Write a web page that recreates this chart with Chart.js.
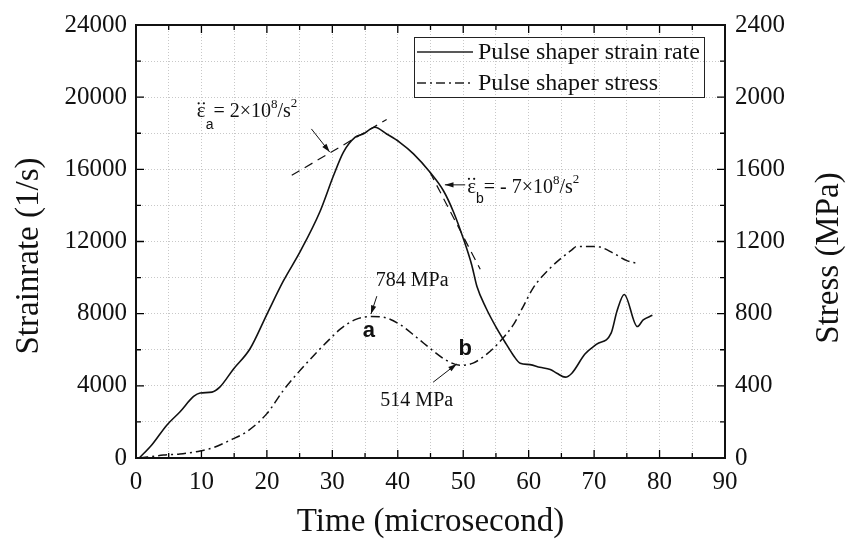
<!DOCTYPE html>
<html>
<head>
<meta charset="utf-8">
<script src="https://cdn.jsdelivr.net/npm/chart.js@4.4.1/dist/chart.umd.min.js"></script>
<style>
  html, body { margin: 0; padding: 0; background: #fff; }
  #wrap { width: 846px; height: 539px; }
</style>
</head>
<body>
<div id="wrap"><canvas id="chart" width="846" height="539"></canvas></div>
<script>
// strain rate curve (1/s)
const timeStrain = [0.5, 2.4, 4.7, 6.7, 8.8, 9.8, 11.6, 12.8, 14.9, 17.4, 20.0, 22.5, 25.1, 28.1, 30.2, 31.7, 33.5, 34.7, 36.5, 38.3, 40.3, 42.4, 44.9, 47.0, 48.5, 50.0, 51.3, 52.1, 53.5, 55.1, 56.6, 57.7, 58.7, 60.2, 61.7, 63.3, 64.3, 65.6, 66.6, 68.6, 70.4, 72.6, 73.5, 74.6, 76.6, 77.5, 78.9];
const strainRate = [0, 720, 1820, 2550, 3410, 3600, 3650, 3925, 4935, 6040, 7965, 9800, 11450, 13650, 15670, 16955, 17780, 17960, 18330, 17960, 17500, 16860, 15850, 14800, 13650, 12180, 10700, 9500, 8300, 7200, 6300, 5670, 5250, 5175, 5030, 4900, 4700, 4480, 4700, 5760, 6310, 6920, 8150, 9065, 7285, 7650, 7910];

// stress curve (MPa)
const timeStress = [0.5, 4.2, 6.7, 9.8, 11.8, 14.4, 16.9, 20.0, 22.5, 24.6, 27.6, 29.6, 31.2, 33.7, 36.0, 37.8, 40.3, 42.9, 45.4, 47.5, 49.5, 51.5, 53.6, 55.6, 57.7, 59.1, 60.7, 63.3, 66.6, 67.3, 69.8, 70.9, 72.9, 75.0, 76.8];
const stress = [0, 16, 22, 39, 57, 99, 145, 246, 374, 466, 585, 659, 714, 770, 784, 780, 741, 668, 594, 540, 514, 526, 576, 645, 741, 835, 943, 1053, 1154, 1172, 1172, 1169, 1136, 1094, 1077];

// tangent lines (dashed)
const tangentATime = [23.8, 38.3];
const tangentAStrain = [15670, 18760];
const tangentBTime = [44.9, 52.6];
const tangentBStrain = [15850, 10460];

const legendLabels = ['Pulse shaper strain rate', 'Pulse shaper stress'];
const xTitle = 'Time (microsecond)';
const yTitle = 'Strainrate (1/s)';
const y2Title = 'Stress (MPa)';

const SERIF = '"Liberation Serif", "Times New Roman", serif';
const SANS = '"Liberation Sans", Arial, sans-serif';
const DASHDOT = [9, 4, 2, 4];

function pts(xs, ys) {
  return xs.map((x, i) => ({ x: x, y: ys[i] }));
}

// annotations anchored in data units (time, strain rate)
// parts: text, size, baseline shift, family, double dot over it
const annotations = {
  epsA: { t: 9.3, v: 18880, parts: [['ε', 21, 0, SERIF, true], ['a', 14, 12, SANS], ['= 2×10', 20, 0, SERIF], ['8', 13, -9, SERIF], ['/s', 20, 0, SERIF], ['2', 13, -10, SERIF]] },
  epsB: { t: 50.6, v: 14700, parts: [['ε', 21, 0, SERIF, true], ['b', 14, 10, SANS], ['= - 7×10', 20, 0, SERIF], ['8', 13, -9, SERIF], ['/s', 20, 0, SERIF], ['2', 13, -10, SERIF]] }
};
const arrows = [
  { from: [26.8, 18240], to: [29.6, 16955] },
  { from: [50.3, 15140], to: [47.2, 15140] },
  { from: [36.8, 8970], to: [35.9, 7980] },
  { from: [45.4, 4200], to: [49.0, 5213] }
];
const labels = [
  { text: '784 MPa', t: 42.2, v: 9800, font: '20px ' + SERIF },
  { text: '514 MPa', t: 42.9, v: 3193, font: '20px ' + SERIF },
  { text: 'a', t: 35.6, v: 7050, font: 'bold 22px ' + SANS },
  { text: 'b', t: 50.3, v: 6055, font: 'bold 22px ' + SANS }
];

const extras = {
  id: 'extras',
  beforeDatasetsDraw(chart) {
    const ctx = chart.ctx;
    const a = chart.chartArea;
    const xs = chart.scales.x, ys = chart.scales.y;
    ctx.save();
    ctx.strokeStyle = '#000';
    ctx.lineWidth = 1.3;
    // inward ticks
    for (let v = 0; v <= 90; v += 5) {
      const px = xs.getPixelForValue(v);
      const len = v % 10 === 0 ? 8 : 5;
      ctx.beginPath();
      ctx.moveTo(px, a.bottom); ctx.lineTo(px, a.bottom - len);
      ctx.moveTo(px, a.top); ctx.lineTo(px, a.top + len);
      ctx.stroke();
    }
    for (let v = 0; v <= 24000; v += 2000) {
      const py = ys.getPixelForValue(v);
      const len = v % 4000 === 0 ? 8 : 5;
      ctx.beginPath();
      ctx.moveTo(a.left, py); ctx.lineTo(a.left + len, py);
      ctx.moveTo(a.right, py); ctx.lineTo(a.right - len, py);
      ctx.stroke();
    }
    ctx.restore();
  },
  afterDraw(chart) {
    const ctx = chart.ctx;
    const a = chart.chartArea;
    const xs = chart.scales.x, ys = chart.scales.y;
    ctx.save();
    // frame
    ctx.strokeStyle = '#111';
    ctx.lineWidth = 2;
    ctx.strokeRect(a.left, a.top, a.right - a.left, a.bottom - a.top);

    // axis titles
    ctx.fillStyle = '#111';
    ctx.font = '33px ' + SERIF;
    ctx.textAlign = 'center';
    ctx.textBaseline = 'alphabetic';
    ctx.fillText(xTitle, (a.left + a.right) / 2, 531);
    ctx.save();
    ctx.translate(38, 256);
    ctx.rotate(-Math.PI / 2);
    ctx.fillText(yTitle, 0, 0);
    ctx.restore();
    ctx.save();
    ctx.translate(838, 258);
    ctx.rotate(-Math.PI / 2);
    ctx.fillText(y2Title, 0, 0);
    ctx.restore();

    // legend
    ctx.lineWidth = 1;
    ctx.strokeStyle = '#222';
    ctx.strokeRect(414.5, 37.5, 290, 60);
    ctx.font = '24px ' + SERIF;
    ctx.textAlign = 'left';
    ctx.textBaseline = 'middle';
    [[], DASHDOT].forEach((dash, i) => {
      const y = 52 + i * 31;
      ctx.setLineDash(dash);
      ctx.lineWidth = 1.5;
      ctx.beginPath();
      ctx.moveTo(417, y); ctx.lineTo(473, y);
      ctx.stroke();
      ctx.setLineDash([]);
      ctx.fillText(legendLabels[i], 478, y + 1);
    });

    // equation annotations
    ctx.textBaseline = 'alphabetic';
    Object.values(annotations).forEach(an => {
      let x = xs.getPixelForValue(an.t);
      const y = ys.getPixelForValue(an.v);
      an.parts.forEach(p => {
        ctx.font = p[1] + 'px ' + p[3];
        ctx.fillText(p[0], x, y + p[2]);
        const w = ctx.measureText(p[0]).width;
        if (p[4]) {
          const cx = x + w / 2;
          [-2.6, 2.6].forEach(dx => {
            ctx.beginPath();
            ctx.arc(cx + dx, y - 14, 1.1, 0, Math.PI * 2);
            ctx.fill();
          });
        }
        x += w;
      });
    });

    // arrows
    ctx.lineWidth = 1;
    ctx.strokeStyle = '#111';
    arrows.forEach(ar => {
      const x1 = xs.getPixelForValue(ar.from[0]), y1 = ys.getPixelForValue(ar.from[1]);
      const x2 = xs.getPixelForValue(ar.to[0]), y2 = ys.getPixelForValue(ar.to[1]);
      const ang = Math.atan2(y2 - y1, x2 - x1);
      ctx.beginPath();
      ctx.moveTo(x1, y1); ctx.lineTo(x2, y2);
      ctx.stroke();
      ctx.beginPath();
      ctx.moveTo(x2, y2);
      ctx.lineTo(x2 - 9 * Math.cos(ang - 0.3), y2 - 9 * Math.sin(ang - 0.3));
      ctx.lineTo(x2 - 9 * Math.cos(ang + 0.3), y2 - 9 * Math.sin(ang + 0.3));
      ctx.closePath();
      ctx.fill();
    });

    // text labels
    ctx.textAlign = 'center';
    ctx.textBaseline = 'middle';
    labels.forEach(l => {
      ctx.font = l.font;
      ctx.fillText(l.text, xs.getPixelForValue(l.t), ys.getPixelForValue(l.v));
    });
    ctx.restore();
  }
};

new Chart(document.getElementById('chart'), {
  type: 'line',
  data: {
    datasets: [
      { label: legendLabels[0], data: pts(timeStrain, strainRate), yAxisID: 'y', borderColor: '#111', borderWidth: 1.6, pointRadius: 0, cubicInterpolationMode: 'monotone' },
      { label: legendLabels[1], data: pts(timeStress, stress), yAxisID: 'y2', borderColor: '#111', borderWidth: 1.5, borderDash: DASHDOT, pointRadius: 0, cubicInterpolationMode: 'monotone' },
      { label: 'tangent a', data: pts(tangentATime, tangentAStrain), yAxisID: 'y', borderColor: '#111', borderWidth: 1.2, borderDash: [9, 6], pointRadius: 0 },
      { label: 'tangent b', data: pts(tangentBTime, tangentBStrain), yAxisID: 'y', borderColor: '#111', borderWidth: 1.2, borderDash: [9, 6], pointRadius: 0 }
    ]
  },
  options: {
    responsive: false,
    animation: false,
    layout: { padding: { top: 22 } },
    plugins: { legend: { display: false }, tooltip: { enabled: false } },
    scales: {
      x: {
        type: 'linear', min: 0, max: 90,
        afterFit(s) { s.height = 81; },
        grid: { color: '#c8c8c8', lineWidth: 1, drawTicks: false },
        border: { display: false, dash: [1, 2] },
        ticks: {
          stepSize: 5, autoSkip: false, maxRotation: 0, padding: 9, color: '#111',
          font: { family: SERIF, size: 25 },
          callback: v => (v % 10 === 0 ? String(v) : '')
        }
      },
      y: {
        type: 'linear', position: 'left', min: 0, max: 24000,
        afterFit(s) { s.width = 136; },
        grid: { color: '#c8c8c8', lineWidth: 1, drawTicks: false },
        border: { display: false, dash: [1, 2] },
        ticks: {
          stepSize: 2000, autoSkip: false, padding: 9, color: '#111',
          font: { family: SERIF, size: 25 },
          callback: v => (v % 4000 === 0 ? String(v) : '')
        }
      },
      y2: {
        type: 'linear', position: 'right', min: 0, max: 2400,
        afterFit(s) { s.width = 121; },
        grid: { drawOnChartArea: false, drawTicks: false },
        border: { display: false },
        ticks: {
          stepSize: 200, autoSkip: false, padding: 10, color: '#111',
          font: { family: SERIF, size: 25 },
          callback: v => (v % 400 === 0 ? String(v) : '')
        }
      }
    }
  },
  plugins: [extras]
});
</script>
</body>
</html>
